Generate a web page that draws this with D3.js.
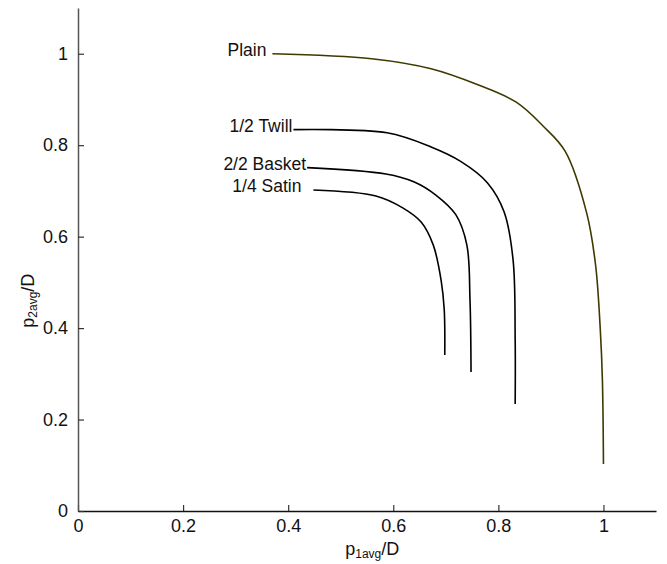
<!DOCTYPE html>
<html>
<head>
<meta charset="utf-8">
<script src="https://cdn.jsdelivr.net/npm/d3@7"></script>
<style>
  body { margin: 0; background: #fff; }
  text { font-family: "Liberation Sans", Arial, sans-serif; }
</style>
</head>
<body>
<div id="wrapper"></div>
<script>
// curve points: [p1avg/D, p2avg/D]
const plain = [[0.370, 1.0], [0.559, 0.989], [0.672, 0.967], [0.761, 0.932], [0.834, 0.894],
  [0.885, 0.842], [0.927, 0.787], [0.968, 0.652], [0.985, 0.538], [0.994, 0.396],
  [0.998, 0.286], [1.0, 0.103]];
const twill = [[0.410, 0.834], [0.588, 0.827], [0.672, 0.796], [0.729, 0.764], [0.779, 0.718],
  [0.811, 0.654], [0.828, 0.549], [0.832, 0.374], [0.832, 0.234]];
const basket = [[0.436, 0.751], [0.586, 0.737], [0.639, 0.720], [0.681, 0.691], [0.719, 0.648],
  [0.740, 0.582], [0.746, 0.462], [0.748, 0.304]];
const satin = [[0.448, 0.702], [0.567, 0.689], [0.618, 0.663], [0.653, 0.632], [0.676, 0.582],
  [0.691, 0.505], [0.697, 0.440], [0.698, 0.341]];

const seriesNames = ['Plain', '1/2 Twill', '2/2 Basket', '1/4 Satin'];
const seriesData = [plain, twill, basket, satin];
const seriesColors = ['#3d3a00', '#000', '#000', '#000'];
const xTicks = [0, 0.2, 0.4, 0.6, 0.8, 1];
const yTicks = [0, 0.2, 0.4, 0.6, 0.8, 1];

const dimensions = {
  width: 667,
  height: 564,
  margin: { top: 8, right: 11, bottom: 53, left: 78 },
};
dimensions.boundedWidth = dimensions.width - dimensions.margin.left - dimensions.margin.right;
dimensions.boundedHeight = dimensions.height - dimensions.margin.top - dimensions.margin.bottom;

const wrapper = d3.select('#wrapper')
  .append('svg')
  .attr('width', dimensions.width)
  .attr('height', dimensions.height);

const bounds = wrapper.append('g')
  .attr('transform', `translate(${dimensions.margin.left},${dimensions.margin.top})`);

const xScale = d3.scaleLinear().domain([0, 1.1]).range([0, dimensions.boundedWidth]);
const yScale = d3.scaleLinear().domain([0, 1.1]).range([dimensions.boundedHeight, 0]);

// axes, ticks pointing inward
const xAxis = bounds.append('g')
  .attr('transform', `translate(0,${dimensions.boundedHeight})`)
  .call(d3.axisBottom(xScale).tickValues(xTicks).tickFormat(d3.format('')).tickSizeInner(-6).tickSizeOuter(0).tickPadding(8));
const yAxis = bounds.append('g')
  .call(d3.axisLeft(yScale).tickValues(yTicks).tickFormat(d3.format('')).tickSizeInner(-6).tickSizeOuter(0).tickPadding(10));

xAxis.select('.domain').attr('stroke', '#111').attr('stroke-width', 1.5);
yAxis.select('.domain').attr('stroke', '#555').attr('stroke-width', 1.5);
[xAxis, yAxis].forEach((ax) => {
  ax.selectAll('.tick line').attr('stroke', '#333').attr('stroke-width', 1.2);
  ax.selectAll('.tick text').attr('font-size', 18).attr('fill', '#111')
    .style('font-family', '"Liberation Sans", Arial, sans-serif');
});

// curves
const line = d3.line()
  .x((d) => xScale(d[0]))
  .y((d) => yScale(d[1]))
  .curve(d3.curveCatmullRom.alpha(0.5));

bounds.selectAll('.curve')
  .data(seriesData)
  .join('path')
  .attr('class', 'curve')
  .attr('d', line)
  .attr('fill', 'none')
  .attr('stroke', (d, i) => seriesColors[i])
  .attr('stroke-width', 1.6);

// curve labels at the start of each line
const labelGap = [6, 1, 1, 12];
bounds.selectAll('.curve-label')
  .data(seriesData)
  .join('text')
  .attr('class', 'curve-label')
  .attr('x', (d, i) => xScale(d[0][0]) - labelGap[i])
  .attr('y', (d) => yScale(d[0][1]))
  .attr('dy', '0.12em')
  .attr('text-anchor', 'end')
  .attr('font-size', 17.5)
  .attr('fill', '#111')
  .text((d, i) => seriesNames[i]);

// axis titles with subscripts
const xTitle = wrapper.append('text')
  .attr('x', dimensions.margin.left + xScale(0.56))
  .attr('y', dimensions.height - 9)
  .attr('text-anchor', 'middle')
  .attr('font-size', 18)
  .attr('fill', '#111');
xTitle.append('tspan').text('p');
xTitle.append('tspan').attr('font-size', 12).attr('dy', 3).text('1avg');
xTitle.append('tspan').attr('dy', -3).text('/D');

const yTitle = wrapper.append('text')
  .attr('transform', `translate(34,${dimensions.margin.top + yScale(0.46)}) rotate(-90)`)
  .attr('text-anchor', 'middle')
  .attr('font-size', 18)
  .attr('fill', '#111');
yTitle.append('tspan').text('p');
yTitle.append('tspan').attr('font-size', 12).attr('dy', 3).text('2avg');
yTitle.append('tspan').attr('dy', -3).text('/D');
</script>
</body>
</html>
